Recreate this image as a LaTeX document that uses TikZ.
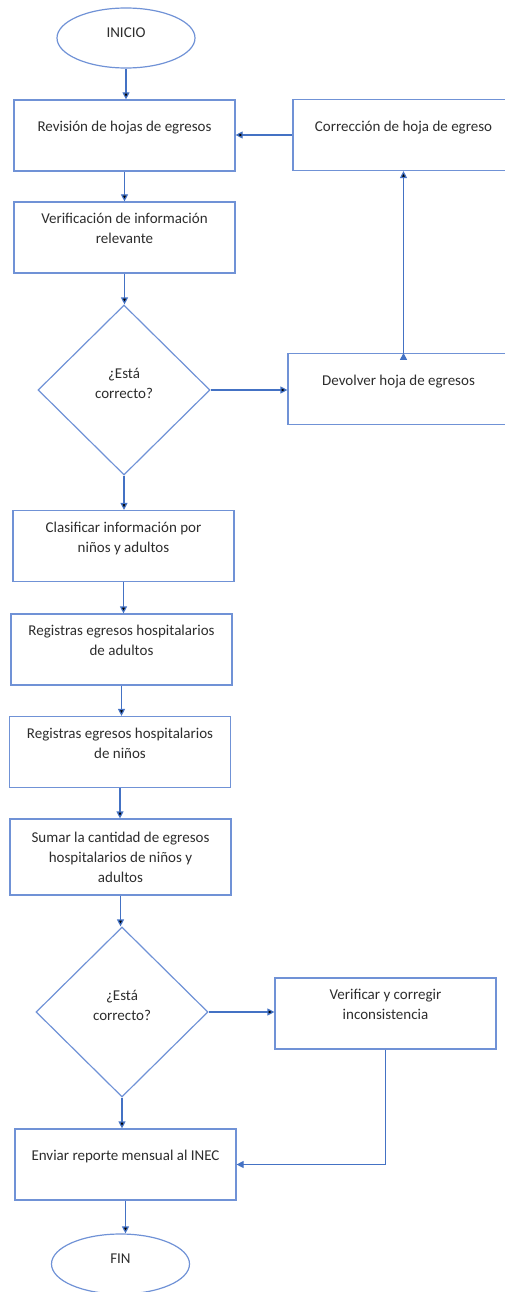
\documentclass[tikz,border=0pt]{standalone}
\usepackage{fontspec}
\setmainfont{Carlito}
\usetikzlibrary{shapes.geometric,arrows.meta}

\definecolor{boxblue}{RGB}{112,146,214}
\definecolor{lineblue}{RGB}{68,114,196}
\definecolor{textgray}{RGB}{45,45,45}

\begin{document}
\begin{tikzpicture}[->,
					>={Triangle[length=7pt,width=7pt]},
					x=1pt, y=-1pt,
					line width=1.2pt,
					every node/.style={text=textgray,font=\fontsize{15pt}{20pt}\selectfont,inner sep=0pt},
					term node/.style={ellipse,draw=boxblue,minimum width=138pt,minimum height=60pt,
						execute at end node={\rule[-10pt]{0pt}{10pt}}},
					proc node/.style={rectangle,draw=boxblue,minimum width=221pt,minimum height=71pt,align=center,
						execute at end node={\rule[-18pt]{0pt}{18pt}}},
					dec node/.style={diamond,draw=boxblue,minimum width=172pt,minimum height=170pt,align=center,
						execute at end node={\rule[-14pt]{0pt}{14pt}}},
					flow/.style={draw=lineblue}]

  \useasboundingbox (0,0) rectangle (504,1292);

  \node[term node] (inicio) at (126,38) {INICIO};
  \node[proc node] (rev) at (124.5,135.5) {Revisión de hojas de egresos};
  \node[proc node] (corr) at (403.5,135) {Corrección de hoja de egreso};
  \node[proc node] (verif) at (124.5,237.5) {Verificación de información\\relevante};
  \node[dec node] (dec1) at (124,390) {¿Está\\correcto?};
  \node[proc node] (dev) at (398.5,389) {Devolver hoja de egresos};
  \node[proc node] (clas) at (123.5,546) {Clasificar información por\\niños y adultos};
  \node[proc node] (regA) at (121.5,649.5) {Registras egresos hospitalarios\\de adultos};
  \node[proc node] (regN) at (120,752) {Registras egresos hospitalarios\\de niños};
  \node[proc node,inner ysep=-5pt,execute at end node={}] (sumar) at (120.5,857)
    {\rule{0pt}{28pt}Sumar la cantidad de egresos\\hospitalarios de niños y\\adultos};
  \node[dec node] (dec2) at (122,1012) {¿Está\\correcto?};
  \node[proc node] (vyc) at (385.5,1013.5) {Verificar y corregir\\inconsistencia};
  \node[proc node] (env) at (125.5,1164.5) {Enviar reporte mensual al INEC};
  \node[term node] (fin) at (120.5,1264) {FIN};

  \path[flow]
    (inicio) edge (inicio.south |- rev.north)
    (rev) edge (rev.south |- verif.north)
    (verif) edge (verif.south |- dec1.north)
    (dec1) edge (dec1.south |- clas.north)
    (clas) edge (clas.south |- regA.north)
    (regA) edge (regA.south |- regN.north)
    (regN) edge (regN.south |- sumar.north)
    (sumar) edge (sumar.south |- dec2.north)
    (dec2) edge (dec2.south |- env.north)
    (env) edge (env.south |- fin.north)
    (dec1.east) edge (dec1.east -| dev.west)
    (dec2.east) edge (dec2.east -| vyc.west)
    (corr.west) edge (corr.west -| rev.east)
    (dev.north -| corr.south) edge (corr.south);
  \draw[flow] (vyc.south) |- (env.east);
\end{tikzpicture}
\end{document}
